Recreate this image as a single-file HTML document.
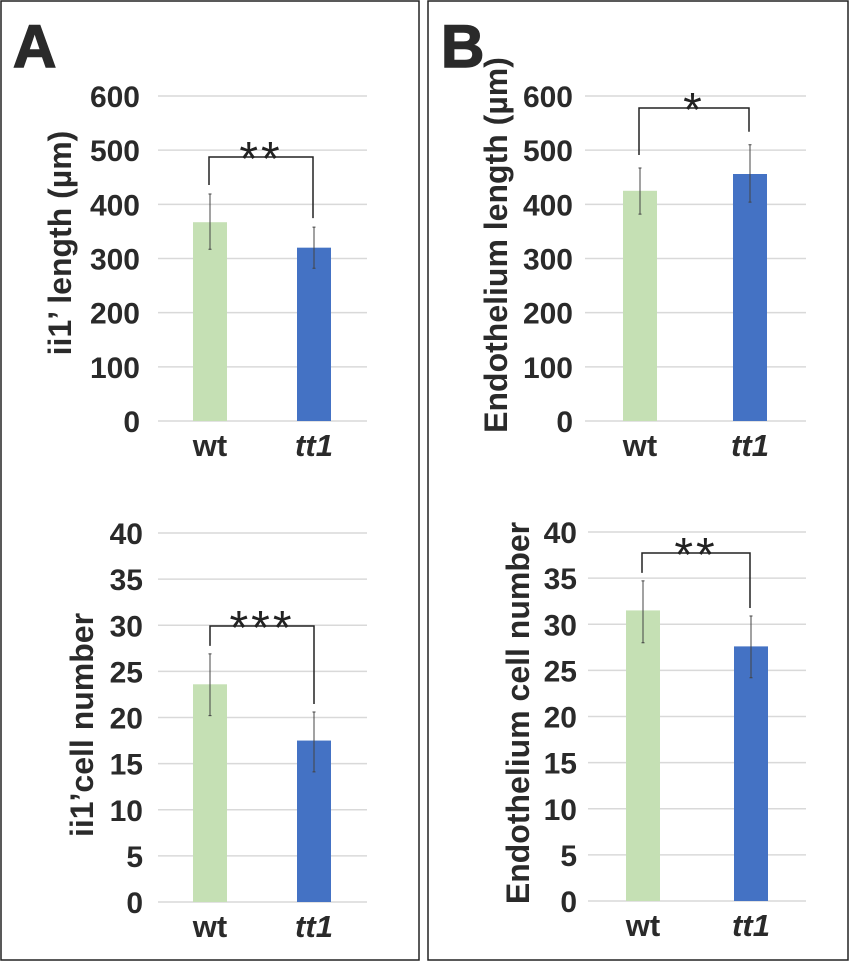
<!DOCTYPE html>
<html><head><meta charset="utf-8"><style>
html,body{margin:0;padding:0;background:#fff}
svg{display:block;font-family:"Liberation Sans",Arial,sans-serif}
</style></head><body>
<svg id="fig" width="850" height="963" viewBox="0 0 850 963">
<rect x="1" y="1" width="418" height="959" fill="none" stroke="#222" stroke-width="1.5"/>
<rect x="428" y="1" width="420" height="959" fill="none" stroke="#222" stroke-width="1.5"/>
<text x="13" y="67" font-size="60" font-weight="bold" fill="#2a2a2a" stroke="#2a2a2a" stroke-width="1.5">A</text>
<text x="441" y="67" font-size="60" font-weight="bold" fill="#2a2a2a" stroke="#2a2a2a" stroke-width="1.5">B</text>
</svg>
<script>
const categories = ["wt", "tt1"];
const aLenValues = [367, 320];
const aLenErrHi = [419, 358];
const aLenErrLo = [317, 282];
const aLenTicks = ["0","100","200","300","400","500","600"];
const aCellValues = [23.6, 17.5];
const aCellErrHi = [26.9, 20.6];
const aCellErrLo = [20.2, 14.1];
const cellTicks = ["0","5","10","15","20","25","30","35","40"];
const bLenValues = [425, 456];
const bLenErrHi = [467, 510];
const bLenErrLo = [382, 404];
const bCellValues = [31.5, 27.6];
const bCellErrHi = [34.7, 30.9];
const bCellErrLo = [28.0, 24.2];
const sigA1 = "**", sigA2 = "***", sigB1 = "*", sigB2 = "**";

const NS = "http://www.w3.org/2000/svg";
const svg = document.getElementById('fig');
function mk(tag, attrs, parent) {
  const e = document.createElementNS(NS, tag);
  for (const k in attrs) e.setAttribute(k, attrs[k]);
  (parent || svg).appendChild(e);
  return e;
}
const colors = ["#c5e0b4", "#4472c4"];

function chart(o) {
  const g = mk('g', {});
  
  
  const max = o.max;
  const y = v => o.y0 - (v / max) * (o.y0 - o.yTop);
  o.ticks.forEach(t => {
    const v = parseFloat(t);
    const gl = mk('line', {x1:o.x1, x2:o.x2, y1:y(v), y2:y(v), stroke:"#d9d9d9", "stroke-width":1.5}, g);
    
    
    const tl = mk('text', {x:o.tickX, y:y(v)+11, "text-anchor":"end", "font-size":30, "font-weight":"bold", fill:"#2a2a2a"}, g);
    tl.textContent = t;
    
    
  });
  const tops = [];
  categories.forEach((c, i) => {
    const cx = o.cx[i];
    const b = mk('rect', {x:cx-17, y:y(o.values[i]), width:34, height:o.y0 - y(o.values[i]), fill:colors[i]}, g);
    
    
    const eb = mk('path', {d:`M${cx},${y(o.hi[i])}V${y(o.lo[i])}M${cx-1.5},${y(o.hi[i])}h3M${cx-1.5},${y(o.lo[i])}h3`, stroke:"#444", "stroke-width":1, fill:"none"}, g);
    
    
    tops.push(y(o.hi[i]));
    const xl = mk('text', {x:cx, y:o.y0+35, "text-anchor":"middle", "font-size":31, "font-weight":"bold", "font-style": i===1?"italic":"normal", fill:"#2a2a2a"}, g);
    xl.textContent = c;
    
    
  });
  const bx1 = o.cx[0] + o.bOff, bx2 = o.cx[1] + o.bOff;
  const br = mk('path', {d:`M${bx1},${tops[0]-o.gap}V${o.bTop}H${bx2}V${tops[1]-o.gap}`, stroke:"#222", "stroke-width":1.5, fill:"none"}, g);
  
  
  const st = mk('text', {x:(bx1+bx2)/2, y:o.bTop+18, "text-anchor":"middle", "font-size":48, "letter-spacing":3, fill:"#222"}, g);
  st.textContent = o.sig;
  
  
  const tt = mk('text', {x:0, y:0, transform:`translate(${o.titleX},${o.titleY}) rotate(-90)`, "text-anchor":"middle", "font-size":o.tfs, "font-weight":"bold", fill:"#2a2a2a"}, g);
  tt.textContent = o.title;
  
  
}

chart({name:"chart-a-length", max:600, ticks:aLenTicks, y0:421, yTop:96, x1:158, x2:367, tickX:140, cx:[210,314],
  values:aLenValues, hi:aLenErrHi, lo:aLenErrLo, bTop:157, gap:9, bOff:-1, sig:sigA1, title:"ii1’ length (µm)", tfs:32, titleX:71, titleY:243});
chart({name:"chart-a-cells", max:40, ticks:cellTicks, y0:902, yTop:533, x1:158, x2:367, tickX:143, cx:[210,314],
  values:aCellValues, hi:aCellErrHi, lo:aCellErrLo, bTop:626, gap:8, bOff:0, sig:sigA2, title:"ii1’cell number", tfs:32, titleX:93, titleY:725});
chart({name:"chart-b-length", max:600, ticks:aLenTicks, y0:421, yTop:96, x1:585, x2:806, tickX:573, cx:[640,750],
  values:bLenValues, hi:bLenErrHi, lo:bLenErrLo, bTop:108, gap:13, bOff:-1, sig:sigB1, title:"Endothelium length (µm)", tfs:32, titleX:507, titleY:245});
chart({name:"chart-b-cells", max:40, ticks:cellTicks, y0:901, yTop:532, x1:588, x2:806, tickX:577, cx:[643,751],
  values:bCellValues, hi:bCellErrHi, lo:bCellErrLo, bTop:553, gap:8, bOff:-1, sig:sigB2, title:"Endothelium cell number", tfs:32, titleX:529, titleY:713});
</script>
</body></html>
